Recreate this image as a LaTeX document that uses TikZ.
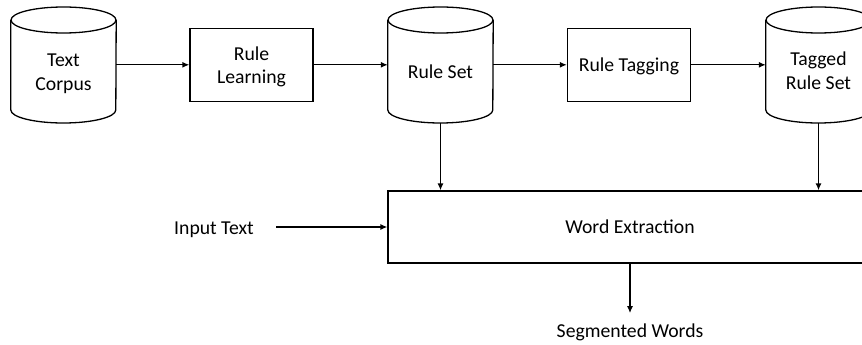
\documentclass[tikz,border=0pt]{standalone}
\usepackage{fontspec}
\setmainfont{Carlito}
\usetikzlibrary{arrows.meta}
\begin{document}
\begin{tikzpicture}[x=1pt,y=-1pt,
  txt/.style={font=\fontsize{19.7}{23.3}\selectfont, align=center},
  box/.style={txt, draw, line width=1.3pt, minimum width=123pt, minimum height=73pt, inner sep=0pt},
  cylbody/.style={txt, minimum width=105pt, inner sep=0pt},
  cyl/.style={line width=1.3pt},
  lbl/.style={txt, inner sep=0pt},
  conn/.style={line width=1.3pt, -{Latex[length=7pt,width=6pt]}},
]
\useasboundingbox (0,0) rectangle (862,345);
\clip (0,0) rectangle (862,345);

% nodes
\node[cylbody] (tc)  at (63.5,73.9)  {Text\\Corpus};
\node[box, text height=40.6pt] (rl)  at (251.5,64.8) {Rule\\Learning};
\node[cylbody, anchor=base] (rs)  at (440.5,78.3) {Rule Set};
\node[box, text height=14pt, text depth=0pt] (rt)  at (629,64.8)   {Rule Tagging};
\node[cylbody] (trs) at (818.5,70.8) {Tagged\\Rule Set};
\node[box, minimum width=484pt, minimum height=72pt] (we) at (630,227) {Word Extraction};
\node[lbl, anchor=base] (it) at (214,234.3) {Input Text};
\node[lbl, anchor=base] (sw) at (630,337) {Segmented Words};

% cylinder outlines
\foreach \c in {tc,rs,trs}{
  \draw[cyl] (\c.center |- 0,20) ellipse [x radius=52.5pt, y radius=13pt];
  \draw[cyl] (\c.west |- 0,20) -- (\c.west |- 0,110)
     arc [start angle=180, end angle=360, x radius=52.5pt, y radius=13pt]
     -- (\c.east |- 0,20);
}

% connectors
\draw[conn] (rl.west -| tc.east) -- (rl.west);
\draw[conn] (rl.east) -- (rl.east -| rs.west);
\draw[conn] (rt.west -| rs.east) -- (rt.west);
\draw[conn] (rt.east) -- (rt.east -| trs.west);
\draw[conn] (rs.center |- 0,123) -- (rs.center |- we.north);
\draw[conn] (trs.center |- 0,123) -- (trs.center |- we.north);
\draw[conn, shorten <=22pt] (it.east |- we.west) -- (we.west);
\draw[conn, shorten >=10pt] (we.south) -- (sw.north);
\end{tikzpicture}
\end{document}
